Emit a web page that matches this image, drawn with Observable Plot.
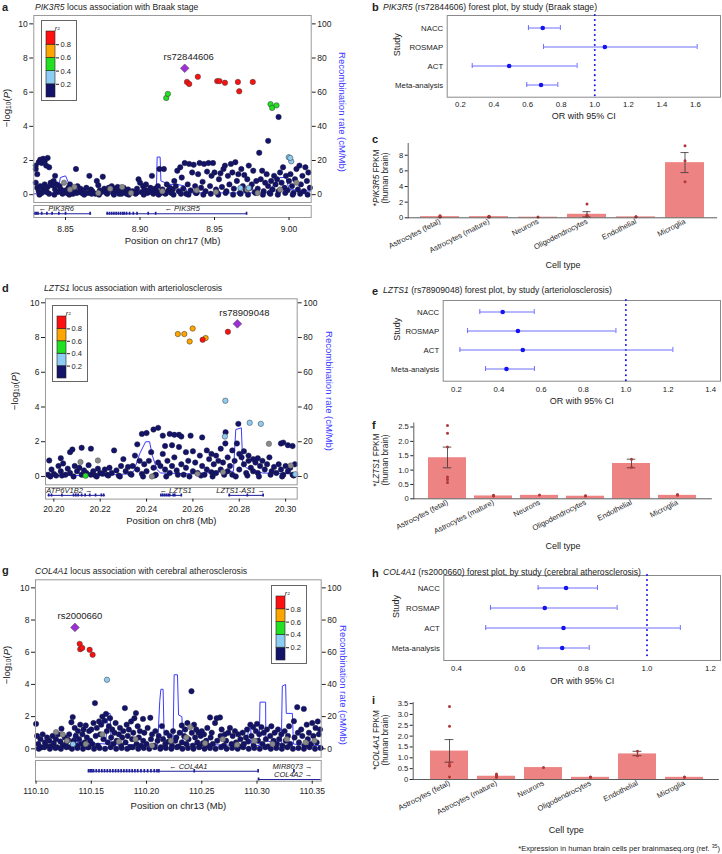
<!DOCTYPE html>
<html><head><meta charset="utf-8">
<script src="https://cdn.jsdelivr.net/npm/d3@7"></script>
<script src="https://cdn.jsdelivr.net/npm/@observablehq/plot@0.6"></script>
<style>
body{margin:0;background:#fff;}
#fig{position:relative;width:722px;height:854px;overflow:hidden;background:#fff;font-family:"Liberation Sans",Arial,sans-serif;color:#222;}
sub{font-size:70%;vertical-align:-0.25em;line-height:0;}
sup{font-size:70%;vertical-align:0.45em;line-height:0;}
</style></head><body><div id="fig"></div><script>
// ---------------- DATA ----------------
const cells = ["Astrocytes (fetal)","Astrocytes (mature)","Neurons","Oligodendrocytes","Endothelial","Microglia"];
const studies = ["NACC","ROSMAP","ACT","Meta-analysis"];
const r2Breaks = [0.2,0.4,0.6,0.8];
const r2Bins = [0,0.2,0.4,0.6,0.8];

// Panel a (PIK3R5, chr17)
const aNavy = [[8.830,1.5],[8.830,1.7],[8.831,1.2],[8.832,1.9],[8.833,2.05],[8.834,1.85],[8.835,2.1],[8.836,1.95],[8.837,1.7],[8.838,2.15],[8.839,1.6],[8.830,0.7],[8.831,0.4],[8.832,0.2],[8.833,0.5],[8.834,0.1],[8.835,0.3],[8.836,0.6],[8.837,0.2],[8.838,0.45],[8.839,0.05],
[8.840,0.7],[8.841,0.55],[8.842,0.8],[8.843,1.1],[8.843,0.3],[8.844,0.6],[8.845,0.15],[8.846,0.5],[8.847,0.3],[8.848,0.05],[8.850,0.25],[8.851,0.1],[8.852,0.4],[8.853,0.6],[8.854,0.2],[8.855,0.05],[8.857,1.5],[8.856,0.3],[8.858,0.5],[8.859,0.15],[8.860,0.35],
[8.861,0.1],[8.862,0.25],[8.864,0.4],[8.865,0.1],[8.866,1.1],[8.867,0.3],[8.868,0.2],[8.870,0.05],[8.871,0.8],[8.872,0.55],[8.873,0.25],[8.874,0.15],[8.875,1.05],[8.876,0.35],[8.877,0.2],[8.878,0.05],[8.879,0.4],[8.880,0.3],
[8.881,0.5],[8.882,0.1],[8.883,0.35],[8.884,0.2],[8.885,0.45],[8.886,0.05],[8.887,0.3],[8.888,0.15],[8.889,0.4],[8.890,0.25],[8.891,0.05],[8.892,0.3],[8.893,0.1],[8.895,0.2],[8.897,0.05],[8.898,0.35],[8.899,0.9],[8.900,0.7],[8.901,0.15],[8.902,0.5],
[8.903,0.3],[8.904,0.6],[8.905,0.1],[8.906,0.25],[8.907,0.4],[8.908,1.1],[8.909,0.05],[8.910,0.35],[8.911,0.2],[8.912,0.5],[8.913,1.5],[8.914,0.1],[8.915,0.3],[8.916,1.5],[8.917,0.05],[8.918,0.6],[8.919,0.25],[8.920,0.4],
[8.921,0.1],[8.922,0.3],[8.923,0.8],[8.924,0.5],[8.925,1.4],[8.926,0.2],[8.927,1.6],[8.928,1.0],[8.929,0.35],[8.930,1.85],[8.931,0.05],[8.932,0.6],[8.933,1.8],[8.934,0.25],[8.935,1.3],[8.936,1.75],[8.937,0.5],[8.938,0.1],[8.939,1.2],[8.940,1.85],
[8.941,0.4],[8.942,0.75],[8.943,1.8],[8.944,0.2],[8.945,1.35],[8.946,1.85],[8.947,0.5],[8.948,1.1],[8.949,1.85],[8.950,1.3],[8.951,0.3],[8.952,0.1],[8.953,0.9],[8.954,1.25],[8.955,0.45],[8.956,1.5],[8.957,1.7],[8.958,0.2],[8.959,1.1],[8.960,0.6],
[8.961,1.8],[8.962,1.3],[8.963,0.35],[8.964,1.9],[8.965,0.8],[8.966,1.2],[8.967,0.1],[8.968,1.5],[8.969,0.5],[8.970,1.15],[8.971,0.25],[8.972,0.9],[8.973,1.7],[8.974,0.4],[8.975,0.6],[8.976,1.4],[8.977,0.15],[8.978,0.8],[8.979,0.35],[8.980,2.45],
[8.981,0.9],[8.982,1.4],[8.983,0.2],[8.984,0.7],[8.985,1.2],[8.986,3.15],[8.986,0.5],[8.987,0.1],[8.988,0.8],[8.989,0.3],[8.990,1.1],[8.991,0.6],[8.992,0.9],[8.993,4.55],[8.993,0.2],[8.994,1.3],[8.995,0.7],[8.996,1.6],[8.997,0.4],[8.998,1.1],[8.999,0.25],[9.000,0.8],[9.001,1.2],[9.002,0.5],[9.003,0.1],[9.004,0.9],[9.005,1.5],[9.006,0.3],[9.007,1.7],[9.008,0.6],[9.009,1.1],[9.010,0.2],[9.011,1.6],[9.012,0.8],[9.013,1.3],[9.014,0.4],
[8.8325,0.0],[8.8375,0.15],[8.8425,0.0],[8.8475,0.2],[8.8525,0.0],[8.8575,0.1],[8.8625,0.0],[8.8675,0.05],[8.8725,0.0],[8.8775,0.1],[8.8825,0.0],[8.8875,0.05],[8.8925,0.0],[8.8975,0.1],[8.9025,0.0],[8.9075,0.15],[8.9125,0.0],[8.9175,0.1],[8.9225,0.0],[8.9275,0.05],[8.9325,0.0],[8.9375,0.1],[8.9425,0.0],[8.9475,0.05],[8.9525,0.0],[8.9575,0.1],[8.9625,0.0],[8.9675,0.05],[8.9725,0.0],[8.9775,0.1],[8.9825,0.0],[8.9875,0.05],[8.9925,0.0],[8.9975,0.1],[9.0025,0.0],[9.0075,0.05],[9.0125,0.0]];
const aGray = [[8.849,0.7],[8.856,0.45],[8.853,0.3],[8.872,0.1],[8.880,0.35],[8.888,0.45],[8.894,0.1],[8.915,0.2],[8.938,0.25],[8.951,0.15],[8.972,0.3],[8.979,0.1],[8.994,0.3],[9.005,0.7]];
const aSnps = [[8.9315,6.6,0.9],[8.933,6.48,0.9],[8.9388,6.9,0.9],[8.9518,6.65,0.9],[8.9534,6.65,0.9],[8.957,6.55,0.9],[8.9657,6.6,0.9],[8.9666,6.05,0.9],[8.9757,6.6,0.9],
[8.9176,5.66,0.5],[8.9187,5.9,0.5],[8.9876,5.3,0.5],[8.9887,5.08,0.5],[8.9916,5.23,0.5],
[9.0015,1.95,0.3],[8.9998,2.19,0.3],[9.0008,2.15,0.3],[8.9674,0.39,0.3],[8.973,0.39,0.3]];
const aLead = [8.930,7.40,"rs72844606"];
const aRecomb = [[8.8287,0.5],[8.840,0.5],[8.845,2],[8.8465,10],[8.850,11],[8.852,7],[8.853,2],[8.86,0.5],[8.905,0.5],[8.911,2],[8.9115,22],[8.9135,22],[8.914,8],[8.92,6],[8.925,6],[8.93,5],[8.932,1],[8.985,1],[8.99,6],[8.994,10],[8.998,10],[9.0,3],[9.0149,2]];
const aGenes = [
 {name:"PIK3R6", start:8.8287, end:8.8676, strand:-1, row:0, at:8.8438, exons:[8.8295,8.8305,8.8315,8.834,8.8375,8.841,8.8455,8.850,8.8665]},
 {name:"PIK3R5", start:8.8777, end:8.9722, strand:-1, row:0, at:8.9283, exons:[8.878,8.8795,8.881,8.8825,8.884,8.8855,8.887,8.8885,8.8895,8.891,8.893,8.8955,8.898,8.9055,8.9105,8.9715]}];

// Panel d (LZTS1, chr8)
const dNavy = [[20.1975,0.1],[20.198,0.92],[20.199,0.4],[20.2,0.15],[20.201,0.05],[20.202,0.6],[20.203,1.05],[20.203,0.3],[20.204,0.75],[20.205,0.1],[20.206,0.45],[20.207,0.2],[20.207,1.4],[20.208,1.55],[20.209,0.6],[20.21,0.3],[20.211,0.5],[20.212,0.1],[20.212,1.65],[20.213,0.35],[20.214,0.2],[20.215,0.65],[20.216,1.6],[20.216,0.1],[20.217,0.3],[20.218,0.05],[20.219,0.45],[20.22,0.2],[20.221,0.15],[20.222,0.4],[20.223,0.1],[20.224,0.5],[20.225,0.2],[20.226,1.5],[20.227,0.35],[20.228,0.05],[20.229,0.6],[20.23,1.0],[20.231,0.3],[20.232,0.55],[20.233,0.15],[20.234,0.6],[20.235,1.2],[20.236,1.85],[20.236,0.4],[20.237,0.9],[20.238,2.45],[20.238,0.15],[20.239,0.7],[20.24,2.5],[20.24,0.3],[20.241,0.9],[20.242,1.4],[20.243,2.7],[20.243,0.5],[20.244,0.1],[20.245,2.8],[20.245,0.8],[20.246,0.6],[20.247,2.35],[20.247,1.3],[20.248,0.4],[20.248,1.75],[20.249,0.9],[20.25,2.45],[20.25,0.2],[20.251,1.8],[20.251,0.6],[20.252,2.4],[20.252,1.1],[20.253,0.35],[20.254,2.4],[20.254,1.7],[20.255,2.3],[20.255,0.7],[20.256,0.1],[20.257,1.4],[20.257,0.5],[20.258,0.9],[20.259,2.35],[20.26,0.3],[20.26,1.45],[20.261,0.8],[20.262,0.2],[20.263,1.2],[20.264,2.25],[20.264,0.6],[20.265,0.1],[20.266,1.5],[20.266,0.4],[20.267,1.0],[20.268,0.25],[20.268,1.3],[20.269,0.7],[20.27,1.2],[20.27,0.2],[20.271,0.9],[20.272,1.6],[20.272,0.4],[20.273,0.8],[20.2741,2.55],[20.274,1.9],[20.275,0.3],[20.275,1.1],[20.276,0.6],[20.277,1.5],[20.277,0.1],[20.278,0.9],[20.2796,3.03],[20.279,1.9],[20.28,1.3],[20.28,0.4],[20.281,1.1],[20.282,0.7],[20.282,1.45],[20.283,0.2],[20.284,1.2],[20.284,0.9],[20.285,0.5],[20.286,1.0],[20.286,0.3],[20.287,0.8],[20.288,1.05],[20.288,0.2],[20.289,0.6],[20.29,0.9],[20.291,0.4],[20.292,0.7],[20.293,1.1],[20.294,0.3],[20.295,0.55],[20.296,0.2],[20.297,0.7],[20.298,1.9],[20.298,0.4],[20.299,1.95],[20.299,0.1],[20.3,0.6],[20.301,1.8],[20.301,0.3],[20.302,0.5],[20.303,1.75],[20.303,0.1],[20.304,0.7],
[20.1985,0.0],[20.2035,0.05],[20.2085,0.0],[20.2135,0.1],[20.2185,0.0],[20.2235,0.05],[20.2285,0.0],[20.2335,0.1],[20.2385,0.0],[20.2435,0.05],[20.2485,0.0],[20.2535,0.1],[20.2585,0.0],[20.2635,0.05],[20.2685,0.0],[20.2735,0.1],[20.2785,0.0],[20.2835,0.05],[20.2885,0.0],[20.2935,0.1],[20.2985,0.0],[20.3035,0.05]];
const dGray = [[20.2115,0.83],[20.219,0.92],[20.2423,0.0],[20.2928,1.88],[20.3022,0.63],[20.273,0.25],[20.262,0.15]];
const dSnps = [[20.2751,8.33,0.9],[20.2642,7.87,0.9],[20.2535,8.2,0.7],[20.2563,8.2,0.7],[20.2599,8.52,0.7],[20.2586,7.77,0.7],[20.2655,7.97,0.7],
[20.274,4.36,0.3],[20.2845,3.09,0.3],[20.2893,3.03,0.3],[20.2738,2.3,0.3],[20.3042,0.13,0.3],[20.2137,0.04,0.5]];
const dLead = [20.2792,8.79,"rs78909048"];
const dRecomb = [[20.1964,0.5],[20.22,0.5],[20.232,1.5],[20.2345,3],[20.237,13],[20.2396,20],[20.2413,20],[20.2425,12],[20.2445,4],[20.246,2],[20.26,1.5],[20.27,2.5],[20.2775,3],[20.2785,27],[20.2809,28],[20.2815,8],[20.283,5],[20.29,2],[20.305,1.5]];
const dGenes = [
 {name:"ATP6V1B2", start:20.1975, end:20.2223, strand:1, row:0, at:20.2067, exons:[20.1978,20.199,20.2035,20.2085,20.2095,20.2105,20.212,20.2135,20.2155,20.218,20.2205,20.2215]},
 {name:"LZTS1", start:20.246, end:20.2555, strand:-1, row:0, at:20.2525, exons:[20.2462,20.247,20.2478,20.2486,20.2494,20.250,20.2515,20.2522,20.255]},
 {name:"LZTS1-AS1", start:20.2755, end:20.2906, strand:1, row:0, at:20.2806, exons:[20.2757,20.2835,20.2903]}];

// Panel g (COL4A1, chr13)
const gNavy = [[110.1,1.55],[110.101,0.8],[110.102,0.3],[110.104,0.6],[110.105,0.1],[110.106,0.9],[110.108,0.4],[110.109,0.2],[110.11,0.7],[110.112,0.5],[110.113,0.15],[110.115,0.8],[110.116,0.35],[110.118,0.6],[110.119,0.1],[110.12,0.9],[110.122,0.45],[110.123,1.25],[110.124,0.2],[110.126,0.7],[110.127,0.3],[110.129,0.55],[110.13,0.9],[110.131,0.1],[110.132,1.65],[110.1332,1.97],[110.134,0.5],[110.135,1.3],[110.136,0.8],[110.137,0.2],[110.138,1.1],[110.139,0.6],[110.14,1.5],[110.141,0.3],[110.142,0.9],[110.143,1.2],[110.144,0.4],[110.145,1.45],[110.146,0.7],[110.147,0.1],[110.148,1.1],[110.149,0.5],[110.15,1.2],[110.151,0.3],[110.152,1.6],[110.1533,2.84],[110.154,0.8],[110.155,1.3],[110.156,0.2],[110.157,1.7],[110.158,0.9],[110.159,1.5],[110.16,2.0],[110.161,0.6],[110.162,1.75],[110.1633,2.17],[110.164,1.1],[110.165,0.4],[110.166,1.4],[110.167,1.9],[110.168,0.7],[110.169,1.2],[110.17,0.3],[110.171,1.0],[110.172,1.6],[110.173,0.5],[110.175,0.9],[110.176,1.3],[110.177,0.2],[110.178,0.7],[110.179,1.1],[110.1804,2.53],[110.181,0.4],[110.182,1.5],[110.183,0.8],[110.184,1.2],[110.185,0.1],[110.186,1.7],[110.187,0.6],[110.188,1.0],[110.189,1.9],[110.1904,2.22],[110.191,0.3],[110.192,1.4],[110.193,0.7],[110.194,1.1],[110.195,0.2],[110.1968,1.86],[110.197,0.5],[110.198,1.0],[110.2,0.3],[110.201,1.3],[110.2034,1.93],[110.204,0.6],[110.205,0.9],[110.207,0.2],[110.208,1.1],[110.21,0.5],[110.211,0.8],[110.213,0.1],[110.2139,1.41],[110.215,0.6],[110.217,0.3],[110.218,1.0],[110.22,0.45],[110.221,0.8],[110.223,0.2],[110.224,1.1],[110.226,0.5],[110.227,0.7],[110.229,0.15],[110.23,1.0],[110.2319,1.45],[110.232,0.4],[110.234,0.8],[110.235,1.2],[110.236,0.3],[110.237,1.6],[110.238,0.6],[110.2407,3.58],[110.241,1.0],[110.242,0.2],[110.243,1.5],[110.244,0.7],[110.245,1.2],[110.246,0.4],[110.247,1.0],[110.248,0.15],[110.249,0.8],[110.25,1.1],[110.251,0.35],[110.252,0.9],[110.254,0.5],[110.255,1.3],[110.256,0.2],[110.2575,1.95],[110.258,0.7],[110.259,1.0],[110.26,0.3],[110.262,1.6],[110.2635,1.9],[110.264,0.5],[110.2665,1.95],[110.267,0.8],[110.268,1.2],[110.27,0.2],[110.271,0.9],[110.272,0.5],[110.274,1.0],[110.2755,1.3],[110.277,0.3],[110.278,0.8],[110.28,1.1],[110.281,0.4],[110.283,0.9],[110.284,0.15],[110.285,0.6],[110.287,1.0],[110.288,0.3],[110.29,0.7],[110.291,1.2],[110.292,0.45],[110.294,1.5],[110.295,0.8],[110.2966,1.35],[110.297,0.2],[110.299,1.1],[110.3,1.55],[110.301,0.5],[110.302,0.9],[110.304,1.35],[110.305,0.3],[110.306,1.0],[110.308,0.6],[110.309,1.2],[110.31,0.15],[110.312,0.8],[110.313,1.4],[110.315,0.5],[110.316,1.0],[110.318,0.3],[110.319,1.2],[110.32,0.6],[110.322,0.9],[110.323,0.2],[110.325,1.1],[110.326,0.5],[110.328,0.8],[110.329,1.4],[110.33,0.3],[110.3334,1.72],[110.334,0.7],[110.3364,2.59],[110.337,1.0],[110.338,0.4],[110.34,1.2],[110.341,0.8],[110.3424,2.48],[110.343,0.2],[110.345,1.5],[110.346,0.6],[110.347,1.0],[110.349,0.3],[110.35,1.6],[110.351,0.8],[110.353,1.3],[110.354,0.4],[110.355,1.7],[110.356,0.9],[110.357,1.2],
[110.1025,0.0],[110.1075,0.1],[110.1125,0.0],[110.1175,0.05],[110.1225,0.0],[110.1275,0.1],[110.1325,0.0],[110.1375,0.05],[110.1425,0.0],[110.1475,0.1],[110.1525,0.0],[110.1575,0.05],[110.1625,0.0],[110.1675,0.1],[110.1725,0.0],[110.1775,0.05],[110.1825,0.0],[110.1875,0.1],[110.1925,0.0],[110.1975,0.05],[110.2025,0.0],[110.2075,0.1],[110.2125,0.0],[110.2175,0.05],[110.2225,0.0],[110.2275,0.1],[110.2325,0.0],[110.2375,0.05],[110.2425,0.0],[110.2475,0.1],[110.2525,0.0],[110.2575,0.05],[110.2625,0.0],[110.2675,0.1],[110.2725,0.0],[110.2775,0.05],[110.2825,0.0],[110.2875,0.1],[110.2925,0.0],[110.2975,0.05],[110.3025,0.0],[110.3075,0.1],[110.3125,0.0],[110.3175,0.05],[110.3225,0.0],[110.3275,0.1],[110.3325,0.0],[110.3375,0.05],[110.3425,0.0],[110.3475,0.1],[110.3525,0.0],[110.3575,0.05]];
const gGray = [[110.1181,1.04],[110.1241,0.89],[110.2395,1.35],[110.128,0.5],[110.145,0.3],[110.16,0.9],[110.175,0.45],[110.19,0.6],[110.205,0.2],[110.222,0.5],[110.236,0.7],[110.253,0.35],[110.269,0.6],[110.282,0.25],[110.298,0.5],[110.314,0.3],[110.327,0.6],[110.344,0.4],[110.352,0.5]];
const gSnps = [[110.1395,6.52,0.9],[110.14,6.19,0.9],[110.1418,6.27,0.9],[110.1485,6.15,0.9],[110.1512,5.84,0.9],[110.1642,4.29,0.3],[110.1334,0.29,0.3]];
const gLead = [110.1352,7.54,"rs2000660"];
const gRecomb = [[110.0995,1],[110.13,1],[110.132,4],[110.135,10],[110.137,4],[110.163,3],[110.165,22],[110.167,22],[110.168,3],[110.21,2],[110.212,30],[110.213,37],[110.215,37],[110.216,5],[110.224,5],[110.225,46],[110.228,46],[110.229,21],[110.232,20],[110.233,3],[110.29,2],[110.2927,13],[110.2943,13],[110.295,2],[110.302,2],[110.3027,29],[110.3078,29],[110.308,5],[110.322,3],[110.3229,39],[110.3259,40],[110.3265,22],[110.332,22],[110.333,3],[110.345,2],[110.358,2]];
const gGenes = [
 {name:"COL4A1", start:110.1473, end:110.3012, strand:-1, row:0, at:110.2378, exons:[110.1475,110.149,110.1505,110.152,110.1545,110.157,110.1595,110.162,110.1645,110.167,110.1695,110.172,110.1745,110.177,110.1795,110.182,110.1845,110.187,110.1895,110.192,110.195,110.198,110.201,110.204,110.207,110.2095,110.2112,110.2432,110.301]},
 {name:"MIR8073", start:110.3332, end:110.3336, strand:1, row:0, at:110.3322, exons:[110.3334]},
 {name:"COL4A2", start:110.3012, end:110.40, strand:1, row:1, at:110.3327, exons:[110.3014]}];

// Forest plots (OR, lower, upper)
const bOR = [0.69,1.06,0.49,0.68],   bLo = [0.605,0.695,0.27,0.595], bHi = [0.795,1.61,0.895,0.78];
const eOR = [0.418,0.49,0.513,0.436], eLo = [0.31,0.252,0.216,0.337], eHi = [0.567,0.953,1.222,0.568];
const hOR = [0.745,0.678,0.737,0.733], hLo = [0.657,0.507,0.492,0.657], hHi = [0.844,0.906,1.105,0.818];

// Expression bars (mean, SE low/high, replicate dots as [cellIndex, value])
const cMean = [0.15,0.15,0.08,0.45,0.12,7.05], cLo = [null,null,null,0.12,null,5.78], cHi = [null,null,null,0.78,null,8.34];
const cDots = [[0,0.25],[0,0.15],[0,0.1],[0,0.2],[1,0.2],[1,0.15],[1,0.12],[1,0.18],[1,0.1],[2,0.1],[3,1.75],[3,0.35],[3,0.25],[3,0.2],[4,0.15],[4,0.12],[5,9.2],[5,7.3],[5,4.6]];
const fMean = [1.43,0.1,0.12,0.09,1.23,0.12], fLo = [1.08,null,null,null,1.08,null], fHi = [1.8,null,null,null,1.38,null];
const fDots = [[0,2.55],[0,2.28],[0,1.8],[0,0.76],[0,0.67],[0,0.57],[1,0.12],[1,0.1],[1,0.11],[2,0.13],[3,0.1],[3,0.11],[4,1.38],[4,1.1],[5,0.15],[5,0.12]];
const iMean = [1.31,0.15,0.55,0.1,1.18,0.1], iLo = [0.8,null,null,null,1.1,null], iHi = [1.84,null,null,null,1.3,null];
const iDots = [[0,3.37],[0,2.45],[0,0.78],[0,0.66],[0,0.62],[0,0.12],[1,0.25],[1,0.2],[1,0.15],[1,0.12],[1,0.1],[1,0.18],[2,0.55],[3,0.12],[3,0.1],[4,1.3],[4,1.1],[5,0.12],[5,0.1]];

// ---------------- RENDER ----------------
const fig = document.getElementById("fig");
const FONT = '"Liberation Sans", Arial, sans-serif';
const R2COLORS = ["#131369","#8ecdf3","#22e022","#ffa500","#ff1010"];
const GENE = "#1f1f9a";
const base = {fontFamily: FONT, fontSize: "8.5px", background: "transparent", color: "#222", overflow: "visible"};

function put(node, left, top) {
  node.style.position = "absolute"; node.style.left = left + "px"; node.style.top = top + "px";
  fig.appendChild(node); return node;
}
function label(html, x, y, o = {}) {
  const d = document.createElement("div");
  d.innerHTML = html;
  d.style.cssText = `position:absolute;left:0;top:0;white-space:nowrap;line-height:1.15;font-size:${o.size||8.5}px;color:${o.color||"#222"};font-weight:${o.weight||"normal"};font-family:${FONT};text-align:center;`;
  const tx = o.anchor === "start" ? "0" : o.anchor === "end" ? "-100%" : "-50%";
  d.style.transform = `translate(${x}px,${y}px) translate(${tx},-50%) rotate(${o.rot||0}deg)`;
  fig.appendChild(d);
}

function r2legend(left, top, h) {
  const box = document.createElement("div");
  box.style.cssText = `width:36px;height:${h}px;border:1px solid #666;background:#fff;box-sizing:border-box;`;
  const bins = r2Bins.map(lo => ({lo, hi: lo + 0.2}));
  const p = Plot.plot({
    width: 34, height: h - 2, marginLeft: 4, marginRight: 21, marginTop: 10, marginBottom: 3,
    x: {domain: [0, 1], axis: null}, y: {domain: [0, 1], axis: null},
    color: {type: "threshold", domain: r2Breaks, range: R2COLORS},
    style: {...base, fontSize: "7.5px"},
    marks: [
      Plot.rect(bins, {x1: 0, x2: 1, y1: "lo", y2: "hi", fill: d => d.lo + 0.1, stroke: "#222", strokeWidth: 0.6}),
      Plot.axisY({anchor: "right", ticks: r2Breaks, tickSize: 3, tickPadding: 2, tickFormat: ".1f", label: null}),
      Plot.text(["r²"], {text: d => d, frameAnchor: "top-right", dx: 4, dy: -5, fontStyle: "italic", fontSize: 7})
    ]
  });
  box.appendChild(p);
  put(box, left, top);
}

function locus(c) {
  const navy = c.navy.map(([x, y]) => ({x, y, r2: 0.1}));
  const gray = c.gray.map(([x, y]) => ({x, y}));
  const snps = c.snps.map(([x, y, r2]) => ({x, y, r2})).sort((a, b) => a.r2 - b.r2);
  const lead = [{x: c.lead[0], y: c.lead[1], name: c.lead[2]}];
  const yt = [0, 2, 4, 6, 8, 10];
  const main = Plot.plot({
    width: c.w, height: c.h, marginLeft: c.ml, marginRight: c.mr, marginTop: c.mt, marginBottom: c.mb,
    x: {domain: c.xd, axis: null}, y: {domain: c.yd, axis: null},
    color: {type: "threshold", domain: r2Breaks, range: R2COLORS},
    style: base,
    marks: [
      Plot.axisY({ticks: yt, anchor: "left", tickSize: 4, tickPadding: 2, label: null}),
      Plot.axisY({ticks: yt, anchor: "right", tickSize: 4, tickPadding: 2, tickFormat: d => String(d * 10), label: null}),
      Plot.line(c.rec, {x: d => d[0], y: d => d[1] / 10, stroke: "#3a3aff", strokeWidth: 1, clip: true}),
      Plot.dot(navy, {x: "x", y: "y", fill: "r2", r: 2.7, stroke: "#1b1b40", strokeWidth: 0.5}),
      Plot.dot(gray, {x: "x", y: "y", fill: "#8a8a8a", r: 2.7, stroke: "#555", strokeWidth: 0.5}),
      Plot.dot(snps, {x: "x", y: "y", fill: "r2", r: 2.7, stroke: "#333", strokeWidth: 0.5}),
      Plot.dot(lead, {x: "x", y: "y", symbol: "diamond2", r: 3.9, fill: "#9b30d6", stroke: "#555", strokeWidth: 0.6}),
      Plot.text(lead, {x: "x", y: "y", text: "name", dy: -11, dx: c.leadDx, fontSize: 9.5}),
      Plot.frame({stroke: "#9a9a9a"})
    ]
  });
  put(main, 0, c.top);
  const exons = c.genes.flatMap(g => g.exons.map(x => ({x, row: g.row})));
  const gt = Plot.plot({
    width: c.w, height: c.gh, marginLeft: c.ml, marginRight: c.mr, marginTop: 1, marginBottom: c.gh - 1 - c.gbox,
    x: {domain: c.xd, axis: null}, y: {domain: [0, 1], axis: null},
    style: base,
    marks: [
      Plot.ruleY(c.genes, {x1: "start", x2: "end", y: d => c.rowLine[d.row], stroke: GENE, strokeWidth: 1, clip: true}),
      Plot.ruleX(exons, {x: "x", y1: d => c.rowLine[d.row] - c.exH, y2: d => c.rowLine[d.row] + c.exH, stroke: GENE, strokeWidth: 1.7, clip: true}),
      Plot.text(c.genes, {x: "at", y: d => c.rowLabel[d.row], text: d => d.strand < 0 ? "\u2190 " + d.name : d.name + " \u2192", fontStyle: "italic", fontSize: 7.5, fill: "#222"}),
      Plot.frame({stroke: "#9a9a9a"}),
      Plot.axisX({ticks: c.xticks, tickFormat: ".2f", tickSize: 3, tickPadding: c.tp, label: null}),
      Plot.text([c.xlabel], {text: d => d, frameAnchor: "bottom", dy: c.xlabDy, fontSize: 9.5})
    ]
  });
  put(gt, 0, c.gtop);
}

function forest(c) {
  const data = studies.map((s, i) => ({study: s, or: c.or[i], lo: c.lo[i], hi: c.hi[i]}));
  const CI = "#6e6eff", PT = "#1414ee";
  const p = Plot.plot({
    width: 352, height: c.h, marginLeft: c.ml, marginRight: 2, marginTop: c.mt, marginBottom: c.mb,
    x: {domain: c.xd, axis: null},
    y: {domain: studies, type: "band", paddingInner: 0.75, paddingOuter: 0.48, axis: null},
    style: {...base, fontSize: "7.8px"},
    marks: [
      Plot.frame({stroke: "#8a8a8a"}),
      Plot.ruleX([1], {stroke: PT, strokeWidth: 2, strokeDasharray: "0.01,5", strokeLinecap: "round"}),
      Plot.ruleY(data, {x1: "lo", x2: "hi", y: "study", stroke: CI, strokeWidth: 1}),
      Plot.tickX(data, {x: "lo", y: "study", stroke: CI, strokeWidth: 1}),
      Plot.tickX(data, {x: "hi", y: "study", stroke: CI, strokeWidth: 1}),
      Plot.dot(data, {x: "or", y: "study", r: 2.3, fill: PT}),
      Plot.axisX({ticks: c.ticks, tickFormat: ".1f", tickSize: 0, tickPadding: c.tp, label: null}),
      Plot.axisY({tickSize: 0, tickPadding: 4, label: null}),
      Plot.text(["OR with 95% CI"], {text: d => d, frameAnchor: "bottom", dy: c.xlabDy, fontSize: 9}),
      Plot.text(["Study"], {text: d => d, frameAnchor: "left", rotate: -90, dx: c.studyDx, fontSize: 9})
    ]
  });
  put(p, 370, c.top);
}

function barPanel(c) {
  const data = cells.map((cell, i) => ({cell, v: c.mean[i], lo: c.lo[i], hi: c.hi[i]}));
  const err = data.filter(d => d.lo != null);
  const pts = c.dots.map(([i, v]) => ({cell: cells[i], v}));
  const step = (352 - c.ml - c.mr) / (6 - c.pi + 2 * c.po), bw = step * (1 - c.pi), inset = (bw - 9) / 2;
  const p = Plot.plot({
    width: 352, height: c.h, marginLeft: c.ml, marginRight: c.mr, marginTop: c.mt, marginBottom: c.mb,
    x: {domain: cells, type: "band", paddingInner: c.pi, paddingOuter: c.po, axis: null},
    y: {domain: [0, c.ymax], axis: null},
    style: {...base, fontSize: "7.6px"},
    marks: [
      Plot.barY(data, {x: "cell", y: "v", fill: "#ee8383"}),
      Plot.ruleX(err, {x: "cell", y1: "lo", y2: "hi", stroke: "#333", strokeWidth: 0.8}),
      Plot.tickY(err, {x: "cell", y: "lo", insetLeft: inset, insetRight: inset, stroke: "#333", strokeWidth: 0.8}),
      Plot.tickY(err, {x: "cell", y: "hi", insetLeft: inset, insetRight: inset, stroke: "#333", strokeWidth: 0.8}),
      Plot.dot(pts, {x: "cell", y: "v", r: 1.5, fill: "#b03838"}),
      Plot.ruleY([0], {stroke: "#333", strokeWidth: 0.8}),
      Plot.frame({anchor: "left", stroke: "#333", strokeWidth: 0.8}),
      Plot.axisY({ticks: c.yticks, tickSize: 3, tickPadding: 2, tickFormat: d => d === 0 ? "0" : (c.dec ? d.toFixed(1) : String(d)), label: null}),
      Plot.axisX({tickSize: 0, tickPadding: 3, tickRotate: -27, label: null}),
      Plot.text(["Cell type"], {text: d => d, frameAnchor: "bottom", dy: c.ctDy, fontSize: 9})
    ]
  });
  put(p, 370, c.top);
}

// ---- Locus plots
locus({top: 0, w: 370, h: 205, ml: 33.3, mr: 59.3, mt: 15, mb: 3, xd: [8.8287, 9.0149], yd: [-0.46, 10.49],
  navy: aNavy, gray: aGray, snps: aSnps, lead: aLead, rec: aRecomb, leadDx: 4,
  genes: aGenes, gtop: 204, gh: 50, gbox: 12, rowLine: [0.31], rowLabel: [0.72], exH: 0.13,
  xticks: [8.85, 8.90, 8.95, 9.00], tp: 5, xlabel: "Position on chr17 (Mb)", xlabDy: 26});
locus({top: 285, w: 370, h: 201.3, ml: 45, mr: 73.3, mt: 13.3, mb: 2, xd: [20.1964, 20.305], yd: [-0.48, 10.23],
  navy: dNavy, gray: dGray, snps: dSnps, lead: dLead, rec: dRecomb, leadDx: 7,
  genes: dGenes, gtop: 485.7, gh: 50, gbox: 11.6, rowLine: [0.32], rowLabel: [0.7], exH: 0.13,
  xticks: [20.20, 20.22, 20.24, 20.26, 20.28, 20.30], tp: 4, xlabel: "Position on chr8 (Mb)", xlabDy: 25});
locus({top: 565, w: 370, h: 193.7, ml: 35, mr: 49.3, mt: 14.3, mb: 2, xd: [110.0995, 110.3581], yd: [-0.52, 10.5],
  navy: gNavy, gray: gGray, snps: gSnps, lead: gLead, rec: gRecomb, leadDx: 5,
  genes: gGenes, gtop: 759, gh: 60, gbox: 20.7, rowLine: [0.48, 0.08], rowLabel: [0.7, 0.32], exH: 0.08,
  xticks: [110.10, 110.15, 110.20, 110.25, 110.30, 110.35], tp: 4, xlabel: "Position on chr13 (Mb)", xlabDy: 27.6});
r2legend(41, 20, 81);
r2legend(51.5, 305, 77);
r2legend(270.5, 585, 79);

// ---- Forest plots
forest({top: 0, h: 125, ml: 76.7, mt: 15, mb: 28.3, xd: [0.121, 1.749], ticks: [0.2,0.4,0.6,0.8,1.0,1.2,1.4,1.6], tp: 4, xlabDy: 21.6, studyDx: -50, or: bOR, lo: bLo, hi: bHi});
forest({top: 290, h: 120, ml: 72.7, mt: 10, mb: 29.3, xd: [0.137, 1.447], ticks: [0.2,0.4,0.6,0.8,1.0,1.2,1.4], tp: 5, xlabDy: 22.6, studyDx: -46, or: eOR, lo: eLo, hi: eHi});
forest({top: 565, h: 125, ml: 73.3, mt: 10, mb: 30, xd: [0.36, 1.2315], ticks: [0.4,0.6,0.8,1.0,1.2], tp: 5, xlabDy: 23.3, studyDx: -48, or: hOR, lo: hLo, hi: hHi});

// ---- Bar plots
barPanel({top: 138, h: 145, ml: 37.7, mr: 4.9, mt: 5, mb: 65.7, pi: 0.2, po: 0.2, ymax: 9.5, yticks: [0,2,4,6,8], dec: false, ctDy: 50.4, mean: cMean, lo: cLo, hi: cHi, dots: cDots});
barPanel({top: 418, h: 150, ml: 43.3, mr: 10.2, mt: 4.5, mb: 69.7, pi: 0.17, po: 0.31, ymax: 2.64, yticks: [0,0.5,1,1.5,2,2.5], dec: true, ctDy: 50, mean: fMean, lo: fLo, hi: fHi, dots: fDots});
barPanel({top: 698, h: 140, ml: 42.7, mr: 3.1, mt: 4, mb: 59, pi: 0.2, po: 0.31, ymax: 3.55, yticks: [0,0.5,1,1.5,2,2.5,3,3.5], dec: true, ctDy: 53.7, mean: iMean, lo: iLo, hi: iHi, dots: iDots});

// ---- Text: panel letters, titles, axis labels, footnote
const letters = [["a",2,7],["b",372,7],["c",372,139],["d",2,288],["e",372,291],["f",372,425],["g",2,570],["h",372,573],["i",372,700]];
letters.forEach(([t, x, y]) => label(t, x, y, {anchor: "start", size: 11, weight: "bold"}));
label("<i>PIK3R5</i> locus association with Braak stage", 35, 7.5, {anchor: "start", size: 8.6});
label("<i>PIK3R5</i> (rs72844606) forest plot, by study (Braak stage)", 383, 7.5, {anchor: "start", size: 8.6});
label("<i>LZTS1</i> locus association with arteriolosclerosis", 44, 289, {anchor: "start", size: 8.6});
label("<i>LZTS1</i> (rs78909048) forest plot, by study (arteriolosclerosis)", 383, 291, {anchor: "start", size: 8.6});
label("<i>COL4A1</i> locus association with cerebral atherosclerosis", 35, 572, {anchor: "start", size: 8.6});
label("<i>COL4A1</i> (rs2000660) forest plot, by study (cerebral atherosclerosis)", 383, 573, {anchor: "start", size: 8.6});

const ylab = "\u2212log<sub>10</sub>(<i>P</i>)";
label(ylab, 7, 108, {rot: -90, size: 9.5});
label(ylab, 15, 391, {rot: -90, size: 9.5});
label(ylab, 7, 665, {rot: -90, size: 9.5});
const rlab = "Recombination rate (cM/Mb)";
label(rlab, 342, 112, {rot: 90, size: 9.5, color: "#3a3aff"});
label(rlab, 328.5, 391, {rot: 90, size: 9.5, color: "#3a3aff"});
label(rlab, 343, 685, {rot: 90, size: 9.5, color: "#3a3aff"});

label("*<i>PIK3R5</i> FPKM<br>(human brain)", 381, 178, {rot: -90, size: 8.2});
label("*<i>LZTS1</i> FPKM<br>(human brain)", 381, 460, {rot: -90, size: 8.2});
label("*<i>COL4A1</i> FPKM<br>(human brain)", 381, 740, {rot: -90, size: 8.2});

label("*Expression in human brain cells per brainmaseq.org (ref. <sup>35</sup>)", 720, 849, {anchor: "end", size: 7.5});
</script></body></html>
